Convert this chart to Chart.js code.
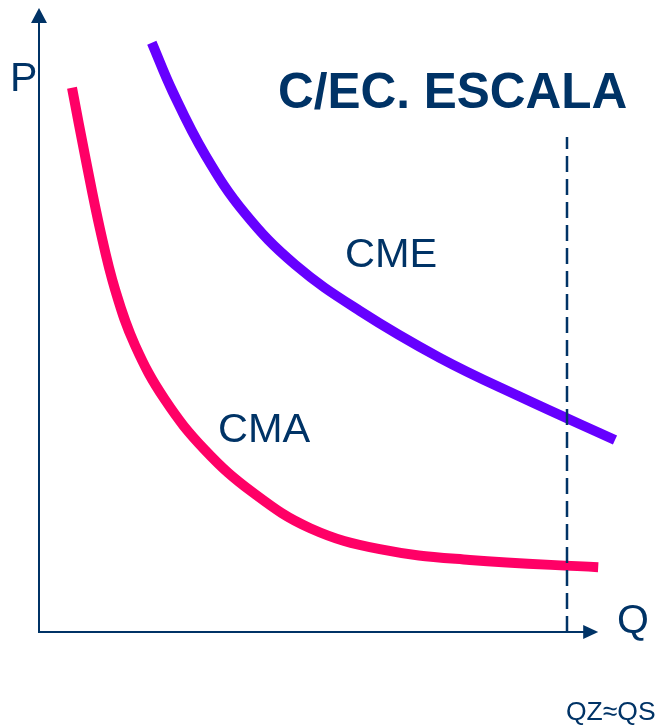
<!DOCTYPE html>
<html>
<head>
<meta charset="utf-8">
<title>C/EC. ESCALA</title>
<script src="https://cdn.jsdelivr.net/npm/chart.js@4/dist/chart.umd.min.js"></script>
<style>
  html, body { margin: 0; padding: 0; background: #ffffff; }
  #wrap { width: 660px; height: 726px; }
</style>
</head>
<body>
<div id="wrap"><canvas id="chart" width="660" height="726"></canvas></div>
<script>
// Quantity (Q) and price (P) coordinates, both on a 0–100 scale
const cmaQ = [5.5, 7.8, 10.2, 12.7, 16.0, 21.0, 27.7, 35.7, 45.2, 56.8, 71.8, 93.2];
const cmaP = [90.7, 78.7, 67.0, 57.0, 47.8, 38.7, 30.3, 23.2, 17.3, 13.8, 12.0, 10.8];

const cmeQ = [18.8, 22.3, 27.7, 34.3, 42.7, 53.5, 66.8, 80.2, 96.0];
const cmeP = [98.2, 90.0, 79.5, 69.8, 61.2, 53.5, 45.7, 39.2, 32.0];

// Output level where QZ ≈ QS
const qzQ = [88.0, 88.0];
const qzP = [0, 82.5];

// Axis extents (arrow tips)
const axisQMax = 93.2;
const axisPMax = 104;

const seriesLabels = ['CMA', 'CME'];
const titleText = 'C/EC. ESCALA';
const pLabel = 'P';
const qLabel = 'Q';
const qzLabel = 'QZ≈QS';

const toPoints = (xs, ys) => xs.map((x, i) => ({ x: x, y: ys[i] }));

const NAVY = '#003366';
const FONT = '"Liberation Sans", Arial, Helvetica, sans-serif';

// Axes with arrowheads plus the free-standing text
const diagramPlugin = {
  id: 'diagram',
  beforeDatasetsDraw(chart) {
    const ctx = chart.ctx;
    const xs = chart.scales.x, ys = chart.scales.y;
    const X = v => xs.getPixelForValue(v);
    const Y = v => ys.getPixelForValue(v);
    const ox = X(0), oy = Y(0);
    const tipY = Y(axisPMax), tipX = X(axisQMax);

    ctx.save();
    ctx.strokeStyle = NAVY;
    ctx.fillStyle = NAVY;
    ctx.lineWidth = 2;
    ctx.beginPath();
    ctx.moveTo(ox, tipY + 10);
    ctx.lineTo(ox, oy);
    ctx.lineTo(tipX - 10, oy);
    ctx.stroke();

    // vertical arrowhead
    ctx.beginPath();
    ctx.moveTo(ox, tipY);
    ctx.lineTo(ox - 8, tipY + 15);
    ctx.lineTo(ox + 8, tipY + 15);
    ctx.closePath();
    ctx.fill();

    // horizontal arrowhead
    ctx.beginPath();
    ctx.moveTo(tipX, oy);
    ctx.lineTo(tipX - 15, oy - 7);
    ctx.lineTo(tipX - 15, oy + 7);
    ctx.closePath();
    ctx.fill();
    ctx.restore();
  },
  afterDatasetsDraw(chart) {
    const ctx = chart.ctx;
    ctx.save();
    ctx.fillStyle = NAVY;
    ctx.textAlign = 'left';
    ctx.textBaseline = 'alphabetic';

    ctx.font = 'bold 49.5px ' + FONT;
    ctx.fillText(titleText, 278, 108);

    ctx.font = '41px ' + FONT;
    ctx.fillText(pLabel, 10, 91);
    ctx.fillText(qLabel, 617, 633);

    ctx.font = '41.5px ' + FONT;
    ctx.fillText(seriesLabels[1], 345, 267);
    ctx.fillText(seriesLabels[0], 218, 442);

    ctx.font = '26.5px ' + FONT;
    ctx.fillText(qzLabel, 566, 720);
    ctx.restore();
  }
};

new Chart(document.getElementById('chart'), {
  type: 'line',
  data: {
    datasets: [
      {
        label: qzLabel,
        data: toPoints(qzQ, qzP),
        borderColor: NAVY,
        borderWidth: 2.5,
        borderDash: [16, 7],
        pointRadius: 0,
        fill: false,
        order: 0
      },
      {
        label: seriesLabels[0],
        data: toPoints(cmaQ, cmaP),
        borderColor: '#ff0066',
        borderWidth: 10,
        pointRadius: 0,
        tension: 0.4,
        fill: false,
        order: 1
      },
      {
        label: seriesLabels[1],
        data: toPoints(cmeQ, cmeP),
        borderColor: '#6600ff',
        borderWidth: 10,
        pointRadius: 0,
        tension: 0.4,
        fill: false,
        order: 2
      }
    ]
  },
  options: {
    responsive: false,
    animation: false,
    clip: false,
    layout: { padding: { left: 39, right: 21, top: 32, bottom: 94 } },
    scales: {
      x: { type: 'linear', min: 0, max: 100, display: false },
      y: { type: 'linear', min: 0, max: 100, display: false }
    },
    plugins: {
      legend: { display: false },
      tooltip: { enabled: false },
      title: { display: false }
    }
  },
  plugins: [diagramPlugin]
});
</script>
</body>
</html>
